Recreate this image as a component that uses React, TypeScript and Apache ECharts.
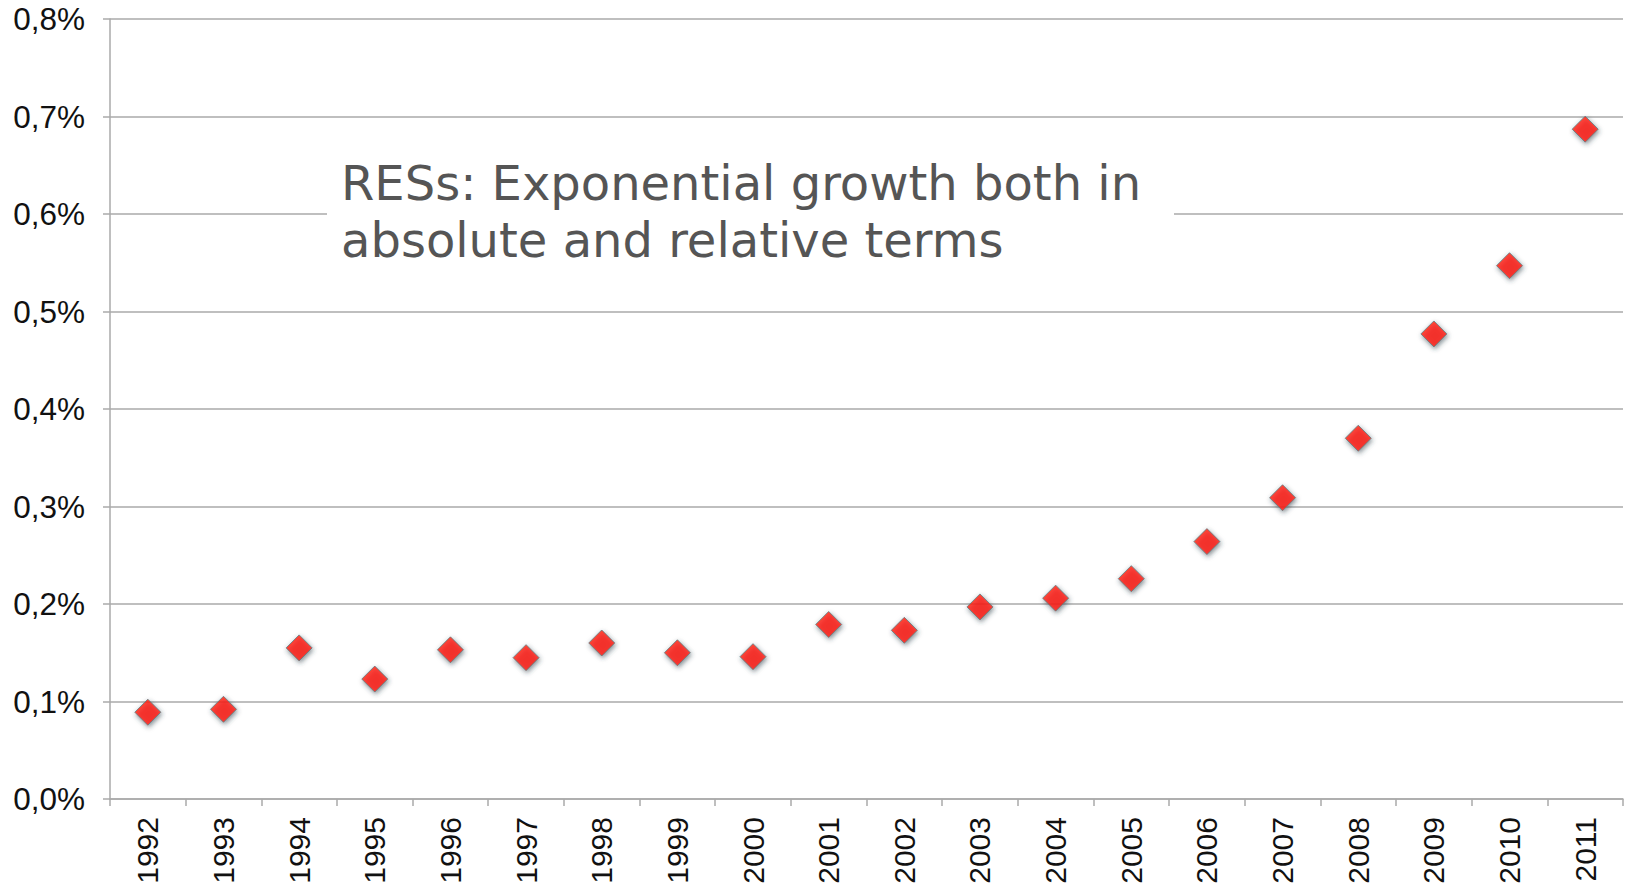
import React, { useEffect, useRef } from "react";
import * as echarts from "echarts";

const years = ["1992","1993","1994","1995","1996","1997","1998","1999","2000","2001","2002","2003","2004","2005","2006","2007","2008","2009","2010","2011"];
const shares = [0.089,0.092,0.155,0.123,0.153,0.145,0.160,0.150,0.146,0.179,0.173,0.197,0.206,0.226,0.264,0.309,0.370,0.477,0.547,0.687];
const annotationLines = ["RESs: Exponential growth both in", "absolute and relative terms"];

export default function App() {
  const ref = useRef<HTMLDivElement>(null);
  useEffect(() => {
    if (!ref.current) return;
    const chart = echarts.init(ref.current, null, { renderer: "svg" });
    const axisGray = "#aaaaaa";
    chart.setOption({
      animation: false,
      backgroundColor: "#ffffff",
      grid: { left: 110, right: 6, top: 19, bottom: 91, containLabel: false },
      xAxis: {
        type: "category",
        data: years,
        boundaryGap: true,
        axisLine: { show: true, lineStyle: { color: axisGray, width: 1.5 } },
        axisTick: { show: true, length: 7, alignWithLabel: false, lineStyle: { color: axisGray, width: 1.5 } },
        axisLabel: {
          rotate: 90,
          margin: 18,
          color: "#111",
          fontFamily: "Liberation Sans, Arial, sans-serif",
          fontSize: 30,
        },
        splitLine: { show: false },
      },
      yAxis: {
        type: "value",
        min: 0,
        max: 0.8,
        interval: 0.1,
        axisLine: { show: true, lineStyle: { color: axisGray, width: 1.5 } },
        axisTick: { show: true, length: 7, lineStyle: { color: axisGray, width: 1.5 } },
        axisLabel: {
          margin: 25,
          color: "#111",
          fontFamily: "Liberation Sans, Arial, sans-serif",
          fontSize: 31.5,
          padding: [6, 0, 0, 0],
          formatter: (v: number) => v.toFixed(1).replace(".", ",") + "%",
        },
        splitLine: { show: true, lineStyle: { color: axisGray, width: 1.5 } },
      },
      graphic: [
        {
          type: "rect",
          left: 327,
          top: 150,
          shape: { width: 847, height: 120 },
          style: { fill: "#ffffff" },
          z: 10,
        },
        {
          type: "text",
          left: 341,
          top: 154,
          style: {
            text: annotationLines.join("\n"),
            fill: "#555555",
            font: "48px 'DejaVu Sans', sans-serif",
            lineHeight: 57,
          },
          z: 11,
        },
      ],
      series: [
        {
          type: "scatter",
          data: shares,
          symbol: "diamond",
          symbolSize: 26,
          z: 20,
          itemStyle: {
            color: "#ff1a0a",
            borderColor: "#5f7f85",
            borderWidth: 1,
            shadowBlur: 5,
            shadowColor: "rgba(40,60,70,0.7)",
            shadowOffsetX: 1,
            shadowOffsetY: 2,
          },
        },
      ],
    });
    return () => chart.dispose();
  }, []);
  return <div ref={ref} style={{ position: "fixed", left: 0, top: 0, width: 1629, height: 890 }} />;
}
